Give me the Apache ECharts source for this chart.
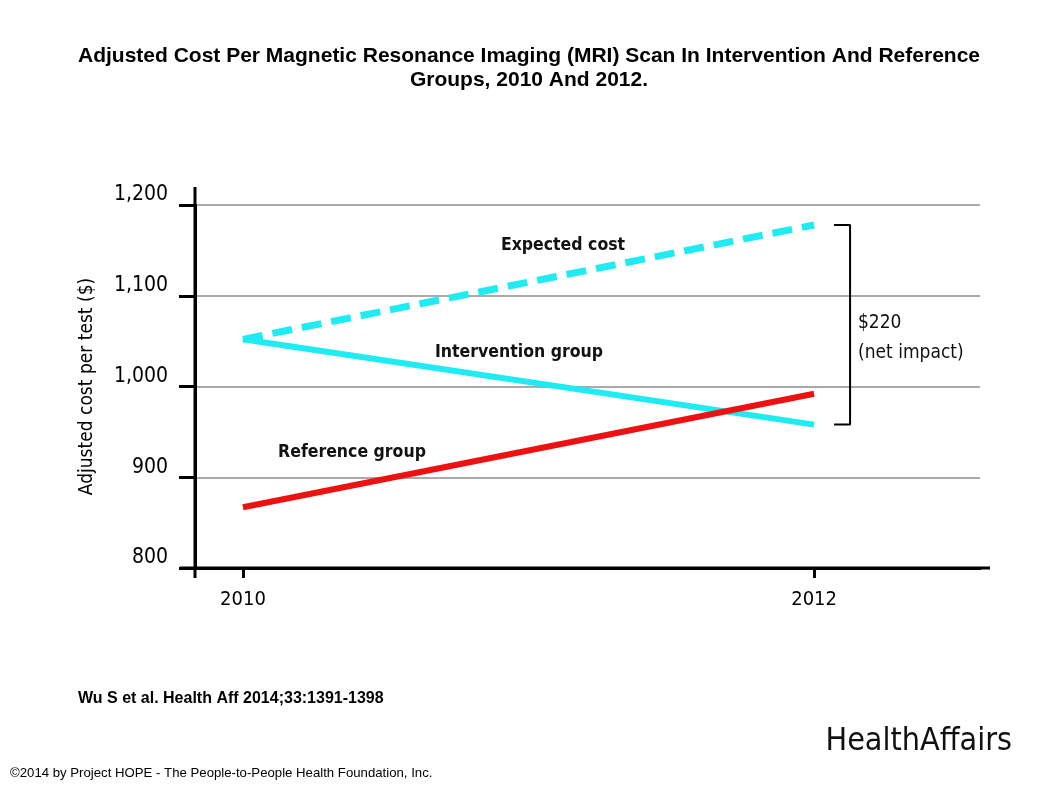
<!DOCTYPE html>
<html><head><meta charset="utf-8">
<script src="https://cdn.jsdelivr.net/npm/echarts@6/dist/echarts.min.js"></script>
<style>html,body{margin:0;padding:0;background:#fff}#c{width:1058px;height:793px}</style>
</head><body><div id="c"></div>
<script>
const years = [2010, 2012];
const expectedCost = [1052, 1178];
const interventionGroup = [1052, 958];
const referenceGroup = [867, 992];
const yTicks = [800, 900, 1000, 1100, 1200];
const netImpact = expectedCost[1] - interventionGroup[1];

const chartFont = '"DejaVu Sans Condensed", "DejaVu Sans", sans-serif';
const arialFont = '"Liberation Sans", Arial, sans-serif';
const toPts = arr => years.map((y, i) => [y, arr[i]]);
const bracketX0 = 2012.07, bracketX1 = 2012.126;

const chart = echarts.init(document.getElementById('c'));
chart.setOption({
  backgroundColor: '#fff',
  animation: false,
  grid: {left: 195, right: 78, top: 205, bottom: 225},
  xAxis: {
    type: 'value', min: 2009.832, max: 2012.581,
    splitLine: {show: false},
    axisLine: {show: true, lineStyle: {color: '#000', width: 3}},
    axisTick: {show: true, customValues: years, length: 10, lineStyle: {color: '#000', width: 3}},
    axisLabel: {customValues: years, formatter: v => String(v), margin: 22, fontFamily: chartFont, fontSize: 20, color: '#000'}
  },
  yAxis: {
    type: 'value', min: 800, max: 1200, interval: 100,
    name: 'Adjusted cost per test ($)', nameLocation: 'middle', nameGap: 98,
    nameTextStyle: {fontFamily: chartFont, fontSize: 19, color: '#000'},
    axisLine: {show: true, lineStyle: {color: '#000', width: 3}},
    axisTick: {show: true, length: 16, lineStyle: {color: '#000', width: 3}},
    axisLabel: {customValues: yTicks, margin: 27, verticalAlign: 'bottom', lineHeight: 20,
      formatter: v => v.toLocaleString('en-US'), fontFamily: chartFont, fontSize: 21, color: '#000'},
    splitLine: {show: true, lineStyle: {color: '#aaa', width: 2}}
  },
  series: [
    {type: 'line', name: 'Expected cost', data: toPts(expectedCost), symbol: 'none',
     lineStyle: {color: '#1EEBF2', width: 7, type: [20, 10]}},
    {type: 'line', name: 'Intervention group', data: toPts(interventionGroup), symbol: 'none',
     lineStyle: {color: '#1EEBF2', width: 6}},
    {type: 'line', name: 'Reference group', data: toPts(referenceGroup), symbol: 'none',
     lineStyle: {color: '#EE1111', width: 6}},
    {type: 'line', name: 'bracket', symbol: 'none',
     data: [[bracketX0, expectedCost[1]], [bracketX1, expectedCost[1]], [bracketX1, interventionGroup[1]], [bracketX0, interventionGroup[1]]],
     lineStyle: {color: '#000', width: 2}}
  ],
  graphic: [
    {type: 'text', x: 529, y: 56, style: {text: 'Adjusted Cost Per Magnetic Resonance Imaging (MRI) Scan In Intervention And Reference', font: 'bold 21px ' + arialFont, fill: '#000', align: 'center', verticalAlign: 'middle'}},
    {type: 'text', x: 529, y: 80, style: {text: 'Groups, 2010 And 2012.', font: 'bold 21px ' + arialFont, fill: '#000', align: 'center', verticalAlign: 'middle'}},
    {type: 'line', shape: {x1: 195, y1: 187, x2: 195, y2: 578}, style: {stroke: '#000', lineWidth: 3}},
    {type: 'line', shape: {x1: 180, y1: 568, x2: 990, y2: 568}, style: {stroke: '#000', lineWidth: 3}},
    {type: 'text', x: 563, y: 245, style: {text: 'Expected cost', font: 'bold 17.5px ' + chartFont, fill: '#111', align: 'center', verticalAlign: 'middle'}},
    {type: 'text', x: 519, y: 352, style: {text: 'Intervention group', font: 'bold 17.5px ' + chartFont, fill: '#111', align: 'center', verticalAlign: 'middle'}},
    {type: 'text', x: 352, y: 452, style: {text: 'Reference group', font: 'bold 17.5px ' + chartFont, fill: '#111', align: 'center', verticalAlign: 'middle'}},
    {type: 'text', x: 858, y: 323, style: {text: '$' + netImpact, font: '19px ' + chartFont, fill: '#111', align: 'left', verticalAlign: 'middle'}},
    {type: 'text', x: 858, y: 353, style: {text: '(net impact)', font: '19px ' + chartFont, fill: '#111', align: 'left', verticalAlign: 'middle'}},
    {type: 'text', x: 78, y: 699, style: {text: 'Wu S et al. Health Aff 2014;33:1391-1398', font: 'bold 16px ' + arialFont, fill: '#000', align: 'left', verticalAlign: 'middle'}},
    {type: 'text', x: 10, y: 773, style: {text: '©2014 by Project HOPE - The People-to-People Health Foundation, Inc.', font: '13.2px ' + arialFont, fill: '#000', align: 'left', verticalAlign: 'middle'}},
    {type: 'text', x: 1012, y: 742, style: {text: 'HealthAffairs', font: '32px "DejaVu Sans Condensed", sans-serif', fill: '#111', align: 'right', verticalAlign: 'middle'}}
  ]
});
</script></body></html>
